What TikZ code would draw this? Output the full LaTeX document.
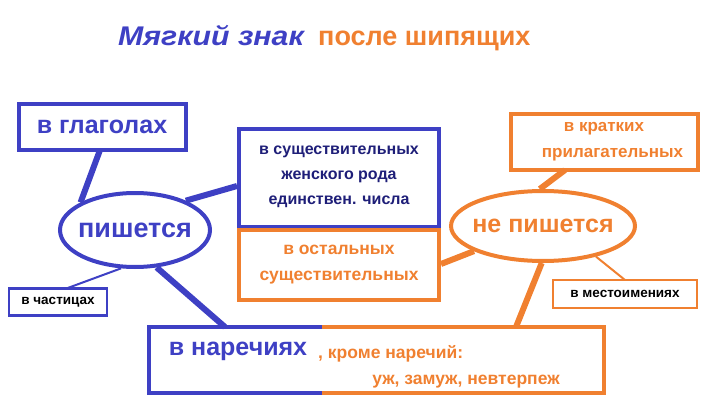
\documentclass[tikz,border=0pt]{standalone}
\usepackage{fontspec}
\setmainfont{Liberation Sans}
\usetikzlibrary{shapes.geometric}
\definecolor{bl}{RGB}{62,64,196}
\definecolor{og}{RGB}{240,128,48}
\definecolor{dbl}{RGB}{30,30,120}
\begin{document}
\begin{tikzpicture}[x=1pt,y=-1pt,
    boxB/.style = {draw=bl, line width=4pt, rectangle, inner sep=0pt},
    boxO/.style = {draw=og, line width=4pt, rectangle, inner sep=0pt},
    ovalB/.style = {draw=bl, line width=4pt, ellipse, inner sep=0pt},
    ovalO/.style = {draw=og, line width=4pt, ellipse, inner sep=0pt},
    txt/.style = {font=\bfseries, align=center, inner sep=0pt},
    linkB/.style = {draw=bl, line width=6pt},
    linkO/.style = {draw=og, line width=6pt},
                        ]
\useasboundingbox (0,0) rectangle (715,420);
% title
\node[txt, text=bl, font=\bfseries\itshape\fontsize{27}{30}\selectfont, anchor=base west, xscale=1.12] (t1) at (118,46) {Мягкий знак};
\node[txt, text=og, font=\bfseries\fontsize{27}{30}\selectfont, anchor=base west] (t2) at (318,46) {после шипящих};
% left side
\node[boxB, minimum width=167, minimum height=46] (glag) at (102,127) {};
\node[txt, text=bl, font=\bfseries\fontsize{25}{28}\selectfont] at (glag) {в глаголах};
\node[ovalB, minimum width=150, minimum height=74] (pish) at (135,230) {};
\node[txt, text=bl, font=\bfseries\fontsize{27}{30}\selectfont] at (pish) {пишется};
\node[draw=bl, line width=2.5pt, minimum width=98, minimum height=27, inner sep=0pt] (chast) at (58,302) {};
\node[txt, font=\bfseries\fontsize{13.5}{15}\selectfont] at (chast) {в частицах};
% middle
\node[boxB, minimum width=200, minimum height=98] (sushZh) at (339,178) {};
\node[txt, text=dbl, font=\bfseries\fontsize{16}{25}\selectfont] at (339,177) {в существительных\\женского рода\\единствен. числа};
\node[boxO, minimum width=200, minimum height=70] (sushOst) at (339,265) {};
\node[txt, text=og, font=\bfseries\fontsize{17.5}{26}\selectfont] at (sushOst) {в остальных\\существительных};
% right side
\node[ovalO, minimum width=184, minimum height=70] (nepish) at (543,226) {};
\node[txt, text=og, font=\bfseries\fontsize{25}{28}\selectfont] at (nepish) {не пишется};
\node[boxO, minimum width=187, minimum height=56] (krat) at (604,142) {};
\node[txt, text=og, font=\bfseries\fontsize{17}{26}\selectfont] at (krat) {в кратких\\\hspace*{1em}прилагательных};
\node[draw=og, line width=2.5pt, minimum width=144, minimum height=28, inner sep=0pt] (mest) at (625,294) {};
\node[txt, font=\bfseries\fontsize{13.5}{15}\selectfont] at (mest) {в местоимениях};
% bottom
\coordinate (bTL) at (149,327);
\coordinate (bM) at (322,327);
\coordinate (bMb) at (322,393);
\coordinate (bBR) at (604,393);
\draw[bl, line width=4pt] (bM) -- (bTL) -- (149,393) -- (bMb);
\draw[og, line width=4pt] (bM) -- (604,327) -- (bBR) -- (bMb);
\node[txt, text=bl, font=\bfseries\fontsize{25}{28}\selectfont] (narech) at (238,351) {в наречиях};
\node[txt, text=og, font=\bfseries\fontsize{17.5}{20}\selectfont, anchor=west] (krome) at (318,354) {, кроме наречий:};
\node[txt, text=og, font=\bfseries\fontsize{17.5}{20}\selectfont] (uzh) at (466,382) {уж, замуж, невтерпеж};
% links
\draw[linkB] (100,150) -- (pish.north west);
\draw[linkB] (pish.30) -- (sushZh.west |- 0,186);
\draw[draw=bl, line width=2pt] (pish.250) -- (65,289);
\draw[linkB] (pish.300) -- (225,327);
\draw[linkO] (nepish.200) -- (sushOst.east |- 0,264);
\draw[linkO] (nepish.95) -- (565,170);
\draw[draw=og, line width=2pt] (nepish.330) -- (625,280);
\draw[linkO] (nepish.268) -- (516,327);
\end{tikzpicture}
\end{document}
